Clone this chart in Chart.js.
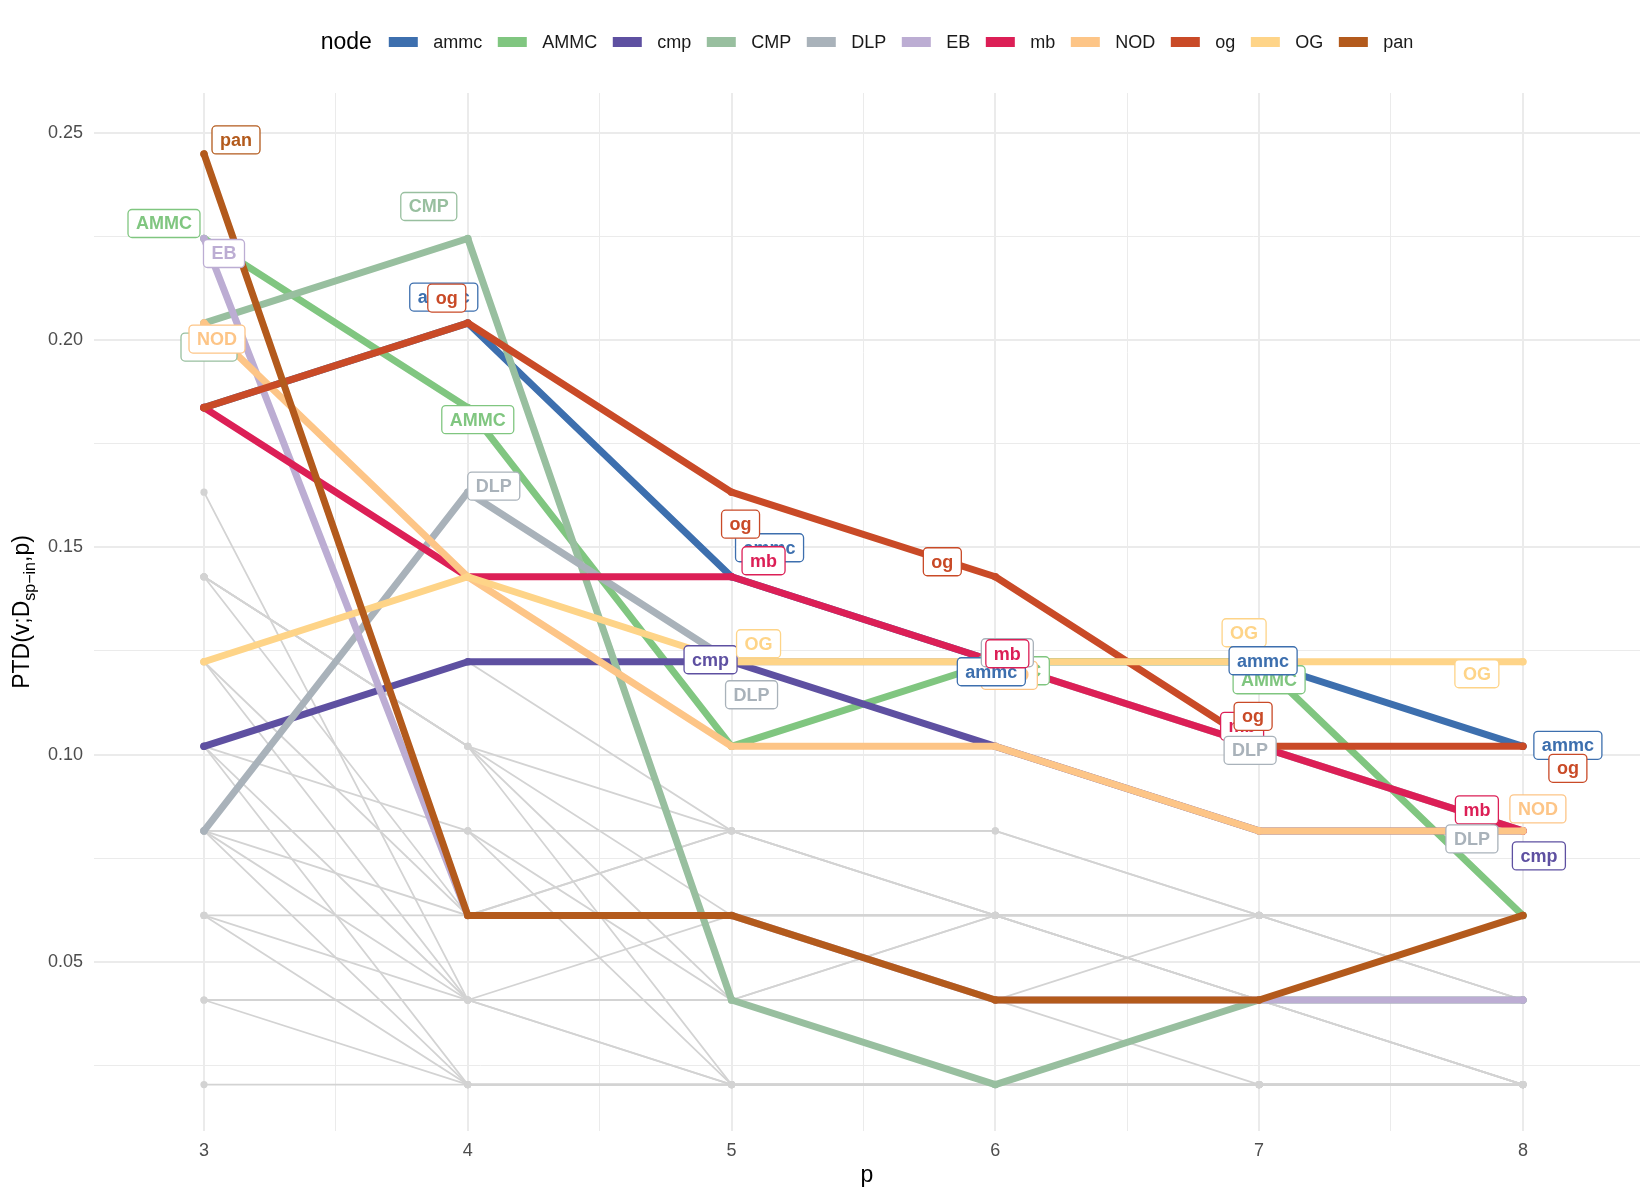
<!DOCTYPE html>
<html>
<head>
<meta charset="utf-8">
<script src="https://cdn.jsdelivr.net/npm/chart.js@4.4.1/dist/chart.umd.min.js"></script>
<style>
  html, body { margin: 0; padding: 0; background: #ffffff; }
  #wrap { width: 1650px; height: 1200px; }
</style>
</head>
<body>
<div id="wrap"><canvas id="myChart" width="1650" height="1200"></canvas></div>
<script>
// x categories (path length p)
const pValues = [3, 4, 5, 6, 7, 8];

// highlighted nodes, in legend order
const nodeNames = ['ammc', 'AMMC', 'cmp', 'CMP', 'DLP', 'EB', 'mb', 'NOD', 'og', 'OG', 'pan'];

// PTD values per node for p = 3..8
const v_ammc = [0.1837, 0.2041, 0.1429, 0.1224, 0.1224, 0.1020];
const v_AMMC = [0.2245, 0.1837, 0.1020, 0.1224, 0.1224, 0.0612];
const v_cmp  = [0.1020, 0.1224, 0.1224, 0.1020, 0.0816, 0.0816];
const v_CMP  = [0.2041, 0.2245, 0.0408, 0.0204, 0.0408, 0.0408];
const v_DLP  = [0.0816, 0.1633, 0.1224, 0.1224, 0.1020, 0.0816];
const v_EB   = [0.2245, 0.0612, 0.0612, 0.0408, 0.0408, 0.0408];
const v_mb   = [0.1837, 0.1429, 0.1429, 0.1224, 0.1020, 0.0816];
const v_NOD  = [0.2041, 0.1429, 0.1020, 0.1020, 0.0816, 0.0816];
const v_og   = [0.1837, 0.2041, 0.1633, 0.1429, 0.1020, 0.1020];
const v_OG   = [0.1224, 0.1429, 0.1224, 0.1224, 0.1224, 0.1224];
const v_pan  = [0.2449, 0.0612, 0.0612, 0.0408, 0.0408, 0.0612];

// all other nodes (drawn in grey)
const greyNodes = [
  [0.1020, 0.1224, 0.0816, 0.0816, 0.0612, 0.0612],
  [0.1429, 0.1020, 0.0816, 0.0612, 0.0612, 0.0408],
  [0.1429, 0.1020, 0.0612, 0.0612, 0.0408, 0.0204],
  [0.1429, 0.1020, 0.0408, 0.0612, 0.0612, 0.0612],
  [0.1429, 0.1020, 0.0204, 0.0204, 0.0204, 0.0204],
  [0.1020, 0.0816, 0.0816, 0.0816, 0.0612, 0.0408],
  [0.0816, 0.0816, 0.0408, 0.0408, 0.0612, 0.0408],
  [0.1224, 0.0612, 0.0816, 0.0612, 0.0408, 0.0204],
  [0.0816, 0.0612, 0.0816, 0.0612, 0.0612, 0.0612],
  [0.1429, 0.0612, 0.0612, 0.0612, 0.0612, 0.0612],
  [0.0612, 0.0612, 0.0612, 0.0612, 0.0408, 0.0408],
  [0.1224, 0.0408, 0.0408, 0.0408, 0.0408, 0.0204],
  [0.1633, 0.0408, 0.0612, 0.0612, 0.0612, 0.0612],
  [0.1020, 0.0408, 0.0408, 0.0612, 0.0408, 0.0204],
  [0.0816, 0.0408, 0.0204, 0.0204, 0.0204, 0.0204],
  [0.1020, 0.0204, 0.0204, 0.0204, 0.0204, 0.0204],
  [0.0816, 0.0204, 0.0204, 0.0204, 0.0204, 0.0204],
  [0.0612, 0.0408, 0.0408, 0.0408, 0.0204, 0.0204],
  [0.0612, 0.0204, 0.0204, 0.0204, 0.0204, 0.0204],
  [0.0408, 0.0408, 0.0204, 0.0204, 0.0204, 0.0204],
  [0.0408, 0.0204, 0.0204, 0.0204, 0.0204, 0.0204],
  [0.0204, 0.0204, 0.0204, 0.0204, 0.0204, 0.0204],
  [0.0816, 0.0816, 0.0204, 0.0204, 0.0204, 0.0204]
];

// tick / grid values
const xTicks = [3, 4, 5, 6, 7, 8];
const xMinor = [3.5, 4.5, 5.5, 6.5, 7.5];
const yTicks = [0.05, 0.10, 0.15, 0.20, 0.25];
const yMinor = [0.025, 0.075, 0.125, 0.175, 0.225];

// node labels: which node, at which p
const labelNode = ['pan', 'AMMC', 'EB', 'CMP', 'NOD',
  'CMP', 'ammc', 'og', 'AMMC', 'DLP',
  'ammc', 'og', 'mb', 'cmp', 'OG', 'DLP',
  'og', 'AMMC', 'NOD', 'ammc', 'DLP', 'mb',
  'OG', 'AMMC', 'ammc', 'mb', 'og', 'DLP',
  'OG', 'ammc', 'og', 'mb', 'NOD', 'DLP', 'cmp'];
const labelP = [3, 3, 3, 3, 3,
  4, 4, 4, 4, 4,
  5, 5, 5, 5, 5, 5,
  6, 6, 6, 6, 6, 6,
  7, 7, 7, 7, 7, 7,
  8, 8, 8, 8, 8, 8, 8];

// label box offsets from their point (px) - layout only
const labelDx = [32, -40, 20, 5, 13,
  -39, -24, -21, 10, 26,
  38, 9, 32, -21, 27, 20,
  -53, 18, 14, -4, 12, 12,
  -15, 10, 4, -17, -6, -9,
  -46, 45, 45, -46, 15, -51, 16];
const labelDy = [-14, -15, 15, 24, 16,
  -32, -26, -25, 12, -6,
  -29, 32, -16, -2, -18, 33,
  -15, 9, -71, 10, -9, -8,
  -29, 18, -1, -20, -30, 4,
  12, -1, 22, -21, -22, 8, 25];

// styles
const nodeColors = {
  ammc: '#3d6fae', AMMC: '#80c680', cmp: '#5e50a1', CMP: '#98bf9f',
  DLP: '#a9b2ba', EB: '#bcadd3', mb: '#dc1f56', NOD: '#fdc587',
  og: '#c94a27', OG: '#fed488', pan: '#b35a1c'
};
const greyColor = '#d3d3d3';
const FONT = '"Liberation Sans", Arial, Helvetica, sans-serif';

const seriesValues = {
  ammc: v_ammc, AMMC: v_AMMC, cmp: v_cmp, CMP: v_CMP, DLP: v_DLP, EB: v_EB,
  mb: v_mb, NOD: v_NOD, og: v_og, OG: v_OG, pan: v_pan
};

function toPoints(vals) {
  return vals.map((v, i) => ({ x: pValues[i], y: v }));
}

let datasets = [];
greyNodes.forEach((vals, i) => {
  datasets.push({
    label: 'other' + i,
    data: toPoints(vals),
    borderColor: greyColor,
    backgroundColor: greyColor,
    borderWidth: 1.8,
    pointRadius: 3.6,
    pointBorderWidth: 0,
    pointBackgroundColor: greyColor,
    tension: 0,
    order: 50
  });
});
nodeNames.forEach((name, i) => {
  datasets.push({
    label: name,
    data: toPoints(seriesValues[name]),
    borderColor: nodeColors[name],
    backgroundColor: nodeColors[name],
    borderWidth: 7,
    pointRadius: 3.8,
    pointBorderWidth: 0,
    pointBackgroundColor: nodeColors[name],
    borderCapStyle: 'round',
    borderJoinStyle: 'round',
    tension: 0,
    order: 20 - i
  });
});

// legend across the top: "node" + coloured keys
const nodeLegend = {
  id: 'nodeLegend',
  afterDraw(chart) {
    const c = chart.ctx;
    const area = chart.chartArea;
    const keyW = 29, gapKey = 15.5, gapItem = 15.5;
    c.save();
    c.textBaseline = 'middle';
    c.font = '23px ' + FONT;
    const titleW = c.measureText('node').width;
    c.font = '18px ' + FONT;
    let total = titleW + 17;
    nodeNames.forEach((n, i) => {
      total += keyW + gapKey + c.measureText(n).width + (i < nodeNames.length - 1 ? gapItem : 0);
    });
    let x = (area.left + area.right) / 2 - total / 2;
    const y = 42;
    c.fillStyle = '#000000';
    c.font = '23px ' + FONT;
    c.textAlign = 'left';
    c.fillText('node', x, y + 1);
    x += titleW + 17;
    c.font = '18px ' + FONT;
    nodeNames.forEach(n => {
      c.fillStyle = nodeColors[n];
      c.fillRect(x, y - 5, keyW, 10);
      x += keyW + gapKey;
      c.fillStyle = '#1a1a1a';
      c.fillText(n, x, y + 1);
      x += c.measureText(n).width + gapItem;
    });
    c.restore();
  }
};

// boxed node labels next to points
const nodeLabels = {
  id: 'nodeLabels',
  afterDatasetsDraw(chart) {
    const c = chart.ctx;
    const xs = chart.scales.x, ys = chart.scales.y;
    c.save();
    c.font = 'bold 18px ' + FONT;
    c.textAlign = 'center';
    c.textBaseline = 'middle';
    labelNode.forEach((n, i) => {
      const idx = pValues.indexOf(labelP[i]);
      const px = xs.getPixelForValue(labelP[i]);
      const py = ys.getPixelForValue(seriesValues[n][idx]);
      const cx = px + labelDx[i], cy = py + labelDy[i];
      const w = c.measureText(n).width + 16, h = 28;
      c.beginPath();
      c.roundRect(cx - w / 2, cy - h / 2, w, h, 4);
      c.fillStyle = '#ffffff';
      c.fill();
      c.lineWidth = 1.3;
      c.strokeStyle = nodeColors[n];
      c.stroke();
      c.fillStyle = nodeColors[n];
      c.fillText(n, cx, cy + 1);
    });
    c.restore();
  }
};

// axis titles (y one has a subscript)
const axisTitles = {
  id: 'axisTitles',
  afterDraw(chart) {
    const c = chart.ctx;
    const a = chart.chartArea;
    c.save();
    c.fillStyle = '#000000';
    c.textAlign = 'left';
    c.textBaseline = 'alphabetic';
    c.font = '23px ' + FONT;
    const w = c.measureText('p').width;
    c.fillText('p', (a.left + a.right) / 2 - w / 2, 1182);

    const parts = [['PTD(v;D', 23, 0], ['sp\u2212in', 16, 6], [',p)', 23, 0]];
    let total = 0;
    parts.forEach(pt => { c.font = pt[1] + 'px ' + FONT; total += c.measureText(pt[0]).width; });
    c.translate(21, (a.top + a.bottom) / 2);
    c.rotate(-Math.PI / 2);
    let x = -total / 2;
    parts.forEach(pt => {
      c.font = pt[1] + 'px ' + FONT;
      c.fillText(pt[0], x, 8 + pt[2]);
      x += c.measureText(pt[0]).width;
    });
    c.restore();
  }
};

const ctx = document.getElementById('myChart').getContext('2d');
new Chart(ctx, {
  type: 'line',
  data: { datasets: datasets },
  options: {
    responsive: false,
    animation: false,
    devicePixelRatio: 1,
    layout: { padding: { top: 93, right: 10, left: 0, bottom: 0 } },
    plugins: { legend: { display: false }, tooltip: { enabled: false } },
    scales: {
      x: {
        type: 'linear',
        min: 2.583,
        max: 8.444,
        afterFit: s => { s.height = 69; },
        afterBuildTicks: s => { s.ticks = xTicks.concat(xMinor).sort((a, b) => a - b).map(v => ({ value: v })); },
        border: { display: false },
        grid: {
          color: '#ebebeb',
          drawTicks: false,
          lineWidth: c => (Number.isInteger(c.tick.value) ? 2 : 1)
        },
        ticks: {
          autoSkip: false,
          maxRotation: 0,
          padding: 9,
          color: '#4d4d4d',
          font: { family: FONT, size: 18 },
          callback: v => (xTicks.includes(v) ? String(v) : '')
        }
      },
      y: {
        type: 'linear',
        min: 0.0092,
        max: 0.2596,
        afterFit: s => { s.width = 94; },
        afterBuildTicks: s => { s.ticks = yTicks.concat(yMinor).sort((a, b) => a - b).map(v => ({ value: v })); },
        border: { display: false },
        grid: {
          color: '#ebebeb',
          drawTicks: false,
          lineWidth: c => (yTicks.some(t => Math.abs(t - c.tick.value) < 1e-9) ? 2 : 1)
        },
        ticks: {
          padding: 11,
          color: '#4d4d4d',
          font: { family: FONT, size: 18 },
          callback: v => (yTicks.some(t => Math.abs(t - v) < 1e-9) ? v.toFixed(2) : '')
        }
      }
    }
  },
  plugins: [nodeLegend, nodeLabels, axisTitles]
});
</script>
</body>
</html>
